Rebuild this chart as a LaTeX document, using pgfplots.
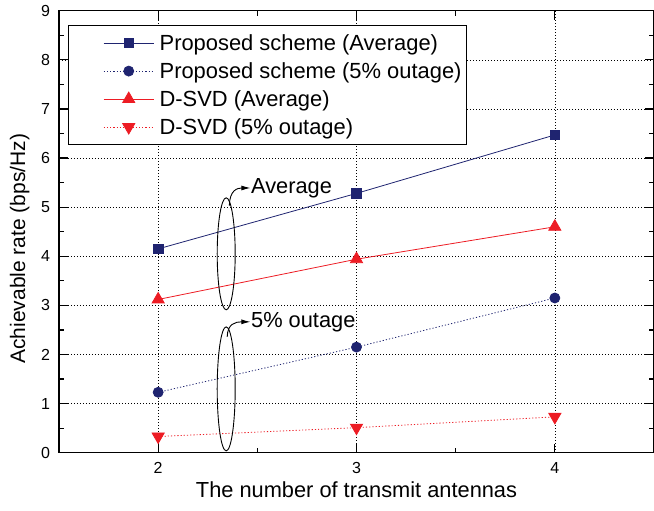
\documentclass[border=0pt]{standalone}
\usepackage{fontspec}
\setmainfont{Liberation Sans}
\usepackage{pgfplots}
\pgfplotsset{compat=1.18}
\usetikzlibrary{arrows.meta}
\definecolor{navy}{RGB}{31,36,112}
\definecolor{myred}{RGB}{237,28,36}
\begin{document}
\begin{tikzpicture}
\begin{axis}[
 name=main,
 scale only axis, width=595pt, height=442pt,
 xmin=1.5, xmax=4.5, ymin=0, ymax=9,
 xtick={2,3,4}, ytick={0,1,...,9},
 minor x tick num=1, minor y tick num=1,
 tick align=inside,
 major tick length=9pt, minor tick length=5pt,
 every tick/.style={black, line width=1.2pt},
 axis line style={line width=1.2pt},
 grid=major,
 major grid style={black, line width=0.6pt, dash pattern=on 0.6pt off 2.4pt},
 tick label style={font=\fontsize{16}{19}\selectfont},
 /pgf/number format/assume math mode=true,
 yticklabel style={xshift=-5.5pt},
 xticklabel style={yshift=-6.5pt},
 xlabel={The number of transmit antennas},
 ylabel={Achievable rate (bps/Hz)},
 xlabel style={font=\fontsize{21.8}{26}\selectfont, at={(axis description cs:0.5,-0.1018)}, anchor=base},
 ylabel style={font=\fontsize{21}{25}\selectfont, at={(axis description cs:-0.0571,0.4615)}, anchor=base},
 legend style={at={(axis description cs:0.0157,0.968)}, anchor=north west,
   draw=black, line width=1pt, fill=white, inner xsep=2pt, inner ysep=3.8pt,
   row sep=0pt, font=\fontsize{21.9}{26}\selectfont,
   nodes={inner xsep=2.5pt, inner ysep=5.3pt}},
 legend cell align=left,
 legend image code/.code={\path (-32.5pt,0pt) (53pt,0pt); \draw[mark repeat=2,mark phase=2] plot coordinates {(0pt,0pt)(25pt,0pt)(50pt,0pt)};},
]
\addplot[navy, line width=0.8pt, mark=square*, mark size=4.75pt, mark options={solid}] coordinates {(2,4.15)(3,5.28)(4,6.47)};
\addlegendentry{Proposed scheme (Average)}
\addplot[navy, line width=0.8pt, dash pattern=on 1.2pt off 2pt, mark=*, mark size=5pt, mark options={solid}] coordinates {(2,1.23)(3,2.15)(4,3.15)};
\addlegendentry{Proposed scheme (5\% outage)}
\addplot[myred, line width=0.8pt, mark=triangle*, mark size=7pt, mark options={solid}] coordinates {(2,3.12)(3,3.94)(4,4.60)};
\addlegendentry{D-SVD (Average)}
\addplot[myred, line width=0.8pt, dash pattern=on 1.2pt off 2pt, mark=triangle*, mark size=7pt, mark options={solid, rotate=180}] coordinates {(2,0.33)(3,0.51)(4,0.73)};
\addlegendentry{D-SVD (5\% outage)}

\draw[line width=0.9pt] (axis cs:2.343,4.05) ellipse [x radius=9pt, y radius=56pt];
\draw[line width=0.9pt] (axis cs:2.343,1.30) ellipse [x radius=9pt, y radius=62pt];
\draw[line width=0.9pt, -{Latex[length=9pt,width=5pt]}] (axis cs:2.359,5.03) .. controls (axis cs:2.36,5.35) and (axis cs:2.40,5.39) .. (axis cs:2.465,5.39);
\node[anchor=west, inner sep=0pt, font=\fontsize{21.8}{26}\selectfont] at (axis cs:2.468,5.39) {Average};
\draw[line width=0.9pt, -{Latex[length=9pt,width=5pt]}] (axis cs:2.348,2.36) .. controls (axis cs:2.35,2.63) and (axis cs:2.39,2.665) .. (axis cs:2.465,2.665);
\node[anchor=west, inner sep=0pt, font=\fontsize{21.8}{26}\selectfont] at (axis cs:2.468,2.665) {5\% outage};
\end{axis}
\pgfresetboundingbox
\path ([shift={(-59pt,-58pt)}]main.south west) rectangle ([shift={(0pt,10.7pt)}]main.north east);
\end{tikzpicture}
\end{document}
